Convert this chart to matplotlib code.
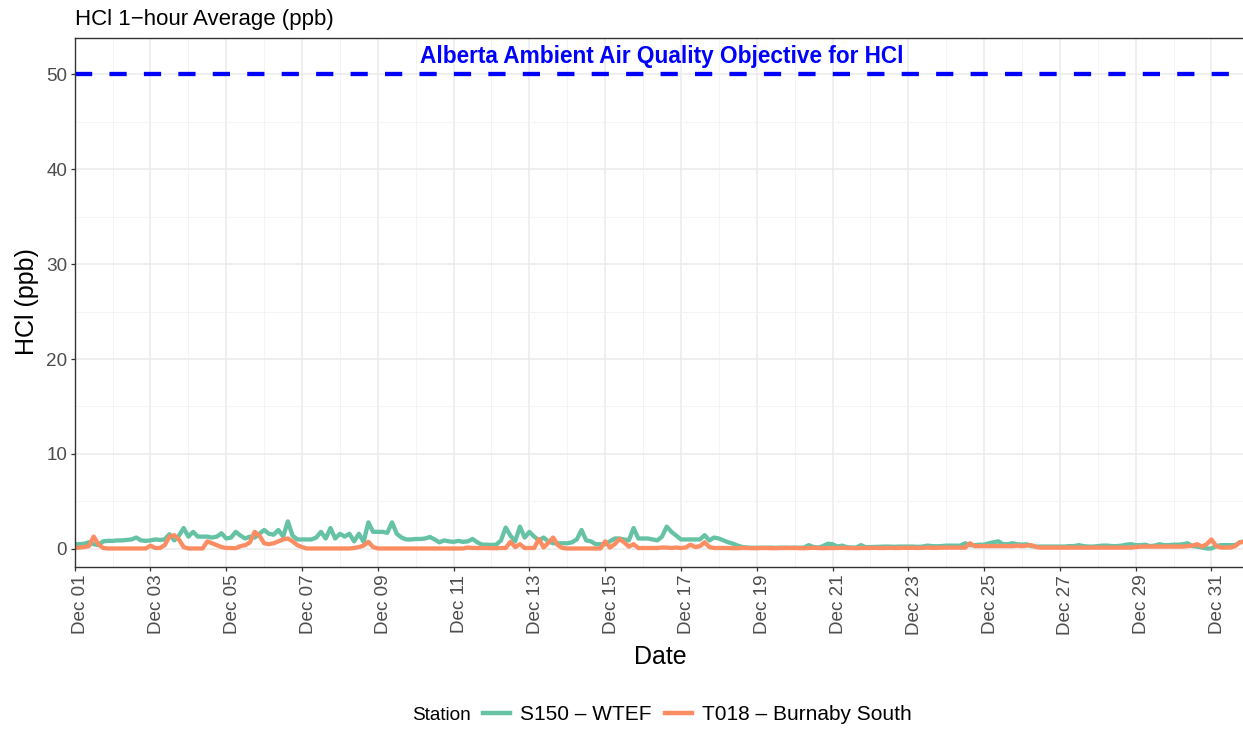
import pandas as pd
import matplotlib

matplotlib.use("Agg")
import matplotlib.pyplot as plt
import matplotlib.dates as mdates
from matplotlib.lines import Line2D
from matplotlib.transforms import ScaledTranslation

plt.rcParams["font.family"] = ["Liberation Sans", "DejaVu Sans"]

# 3-hourly readings, one row per day (Dec 01 .. Dec 31)
start = "2023-12-01"
step = "3h"
s150 = [
    0.5, 0.5, 0.55, 0.7, 0.5, 0.4, 0.8, 0.85,
    0.85, 0.9, 0.9, 0.95, 1.0, 1.2, 0.9, 0.85,
    0.9, 1.0, 0.95, 1.0, 1.55, 0.9, 1.4, 2.2,
    1.3, 1.8, 1.3, 1.3, 1.3, 1.2, 1.3, 1.65,
    1.1, 1.2, 1.8, 1.4, 1.1, 1.3, 1.2, 1.6,
    2.0, 1.6, 1.5, 2.0, 1.3, 2.9, 1.4, 1.0,
    1.0, 1.0, 1.0, 1.2, 1.8, 1.1, 2.2, 1.1,
    1.6, 1.3, 1.6, 0.8, 1.6, 0.75, 2.8, 1.8,
    1.8, 1.8, 1.7, 2.8, 1.6, 1.2, 1.0, 1.0,
    1.05, 1.05, 1.1, 1.26, 1.0, 0.7, 0.9, 0.8,
    0.75, 0.85, 0.75, 0.8, 1.05, 0.7, 0.45, 0.45,
    0.42, 0.45, 0.9, 2.25, 1.4, 0.8, 2.35, 1.2,
    1.8, 1.3, 0.9, 1.2, 0.8, 0.6, 0.6, 0.6,
    0.6, 0.7, 1.0, 2.0, 0.9, 0.8, 0.5, 0.5,
    0.5, 0.8, 1.1, 1.1, 1.0, 0.9, 2.2, 1.1,
    1.1, 1.1, 1.0, 0.9, 1.3, 2.35, 1.8, 1.4,
    1.0, 1.0, 1.0, 1.0, 1.0, 1.45, 0.9, 1.2,
    1.1, 0.9, 0.7, 0.55, 0.35, 0.2, 0.15, 0.12,
    0.12, 0.12, 0.13, 0.14, 0.12, 0.13, 0.14, 0.12,
    0.14, 0.13, 0.15, 0.4, 0.2, 0.15, 0.3, 0.55,
    0.5, 0.25, 0.35, 0.2, 0.15, 0.15, 0.4, 0.18,
    0.2, 0.22, 0.25, 0.25, 0.25, 0.22, 0.25, 0.25,
    0.25, 0.25, 0.22, 0.25, 0.35, 0.3, 0.28, 0.3,
    0.35, 0.35, 0.35, 0.35, 0.6, 0.4, 0.4, 0.45,
    0.45, 0.6, 0.7, 0.8, 0.5, 0.5, 0.6, 0.5,
    0.45, 0.5, 0.3, 0.25, 0.25, 0.25, 0.25, 0.25,
    0.25, 0.25, 0.3, 0.3, 0.4, 0.3, 0.25, 0.25,
    0.3, 0.35, 0.35, 0.3, 0.3, 0.35, 0.45, 0.5,
    0.4, 0.4, 0.45, 0.3, 0.35, 0.5, 0.4, 0.4,
    0.45, 0.45, 0.5, 0.6, 0.3, 0.25, 0.15, 0.05,
    0.05, 0.3, 0.4, 0.4, 0.4, 0.4, 0.7, 0.8,
]
t018 = [
    0.1, 0.15, 0.2, 0.3, 1.3, 0.5, 0.1, 0.05,
    0.05, 0.05, 0.05, 0.05, 0.05, 0.05, 0.05, 0.05,
    0.35, 0.1, 0.1, 0.4, 1.3, 1.45, 1.0, 0.2,
    0.05, 0.05, 0.05, 0.05, 0.8, 0.6, 0.4, 0.2,
    0.1, 0.1, 0.08, 0.3, 0.4, 0.7, 1.8, 1.4,
    0.6, 0.5, 0.6, 0.8, 1.0, 1.1, 0.8, 0.4,
    0.2, 0.05, 0.05, 0.05, 0.05, 0.05, 0.05, 0.05,
    0.05, 0.05, 0.05, 0.1, 0.2, 0.35, 0.75, 0.2,
    0.05, 0.05, 0.05, 0.05, 0.05, 0.05, 0.05, 0.05,
    0.05, 0.05, 0.05, 0.05, 0.05, 0.05, 0.05, 0.05,
    0.05, 0.05, 0.05, 0.15, 0.1, 0.1, 0.1, 0.1,
    0.08, 0.08, 0.1, 0.1, 0.75, 0.2, 0.5, 0.1,
    0.1, 0.1, 1.05, 0.15, 0.65, 1.2, 0.4, 0.1,
    0.05, 0.05, 0.05, 0.05, 0.05, 0.05, 0.05, 0.05,
    0.8, 0.15, 0.5, 1.05, 0.7, 0.25, 0.5, 0.1,
    0.1, 0.1, 0.1, 0.1, 0.15, 0.15, 0.1, 0.15,
    0.1, 0.15, 0.45, 0.2, 0.3, 0.7, 0.2, 0.1,
    0.1, 0.1, 0.1, 0.08, 0.08, 0.1, 0.1, 0.08,
    0.08, 0.1, 0.1, 0.08, 0.08, 0.1, 0.1, 0.1,
    0.1, 0.08, 0.08, 0.1, 0.12, 0.1, 0.08, 0.1,
    0.1, 0.1, 0.12, 0.1, 0.1, 0.08, 0.1, 0.1,
    0.1, 0.12, 0.1, 0.1, 0.12, 0.1, 0.1, 0.12,
    0.12, 0.12, 0.1, 0.12, 0.14, 0.12, 0.12, 0.14,
    0.14, 0.14, 0.14, 0.14, 0.14, 0.6, 0.3, 0.3,
    0.3, 0.3, 0.3, 0.3, 0.3, 0.3, 0.3, 0.35,
    0.3, 0.35, 0.4, 0.2, 0.14, 0.14, 0.14, 0.14,
    0.14, 0.14, 0.14, 0.14, 0.14, 0.14, 0.14, 0.14,
    0.14, 0.14, 0.14, 0.14, 0.14, 0.14, 0.14, 0.14,
    0.2, 0.25, 0.25, 0.25, 0.25, 0.25, 0.25, 0.25,
    0.25, 0.25, 0.25, 0.3, 0.35, 0.5, 0.25, 0.5,
    1.0, 0.3, 0.15, 0.15, 0.15, 0.3, 0.7, 0.75,
]
station_names = ["S150 \u2013 WTEF", "T018 \u2013 Burnaby South"]
station_colors = ["#66C2A5", "#FC8D62"]
objective = 50
objective_label = "Alberta Ambient Air Quality Objective for HCl"
label_time = "2023-12-16 12:00"
x_end = "2023-12-31 20:00"
y_ticks = [0, 10, 20, 30, 40, 50]

W, H = 1243, 729
fig = plt.figure(figsize=(W / 100, H / 100), dpi=100)
ax = fig.add_axes([74.7 / W, 1 - 567 / H, (W - 74.7) / W, (567 - 38) / H])

times = pd.date_range(start, periods=len(s150), freq=step)
for vals, name, col in zip([s150, t018], station_names, station_colors):
    ax.plot(times, vals, color=col, lw=3.1, solid_joinstyle="round",
            solid_capstyle="butt", label=name)

ax.axhline(objective, color="blue", lw=3.1, ls=(0, (4, 4)))
ax.text(pd.Timestamp(label_time), 51.8, objective_label, color="blue",
        fontweight="bold", fontsize=16.3, ha="center", va="center")

ax.set_xlim(pd.Timestamp(start), pd.Timestamp(x_end))
ax.set_ylim(-1.9, 53.8)
ax.set_yticks(y_ticks)
ax.set_yticks([5, 15, 25, 35, 45], minor=True)
ax.xaxis.set_major_locator(mdates.DayLocator(bymonthday=range(1, 32, 2)))
ax.xaxis.set_minor_locator(mdates.DayLocator(bymonthday=range(2, 32, 2)))
ax.xaxis.set_major_formatter(mdates.DateFormatter("%b %d"))
ax.grid(which="major", color="#EBEBEB", lw=1.1)
ax.grid(which="minor", color="#F2F2F2", lw=0.6)
ax.set_axisbelow(True)
ax.tick_params(which="major", length=3.2, width=0.9, color="#333333",
               labelcolor="#4D4D4D", labelsize=13.6, pad=2.3)
ax.tick_params(which="minor", length=0)
shift = ScaledTranslation(6 / 100, 0, fig.dpi_scale_trans)
for lab in ax.get_xticklabels():
    lab.set_rotation(90)
    lab.set_rotation_mode("anchor")
    lab.set_ha("right")
    lab.set_va("center")
    lab.set_transform(lab.get_transform() + shift)
for side in ["left", "top", "bottom"]:
    ax.spines[side].set_color("#333333")
    ax.spines[side].set_linewidth(1.0)
ax.spines["right"].set_visible(False)

fig.text(74.7 / W, 1 - 19 / H, "HCl 1\u2212hour Average (ppb)", fontsize=16,
         ha="left", va="center")
fig.text(660 / W, 1 - 657 / H, "Date", fontsize=18, ha="center", va="center")
fig.text(27 / W, 1 - 302 / H, "HCl (ppb)", fontsize=18, rotation=90,
         ha="center", va="center")

fig.text(412 / W, 1 - 715 / H, "Station", fontsize=13.7, ha="left", va="center")
handles = [Line2D([], [], color=c, lw=3.2) for c in station_colors]
fig.legend(handles, station_names, loc="center left",
           bbox_to_anchor=(483 / W, 1 - 715 / H), ncol=2, frameon=False,
           fontsize=15, handlelength=1.3, handletextpad=0.48,
           columnspacing=0.65, borderpad=0, borderaxespad=0)

fig.savefig("out.png", dpi=100)
plt.close(fig)
